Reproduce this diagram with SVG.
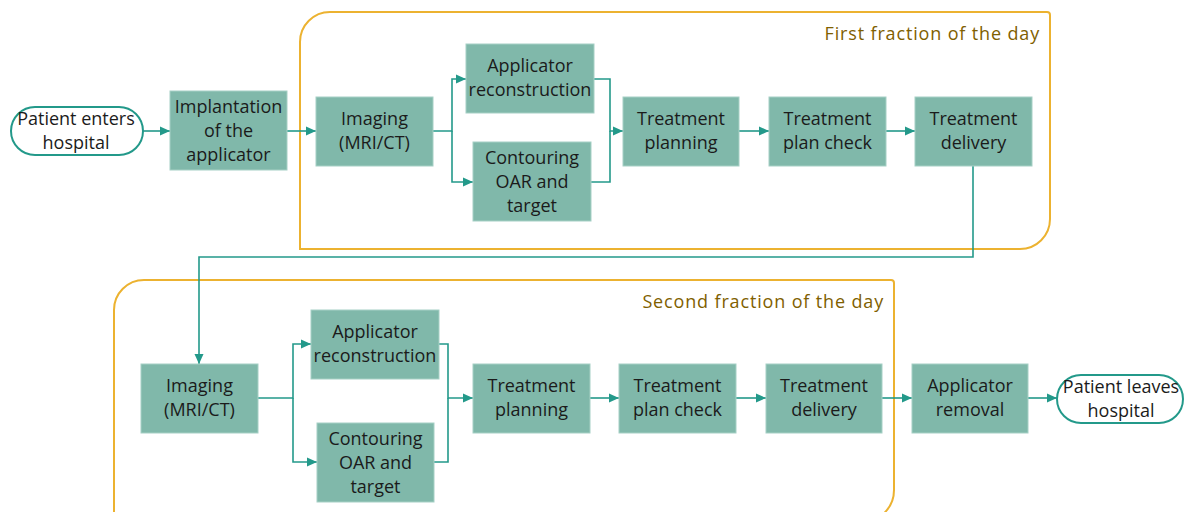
<svg xmlns="http://www.w3.org/2000/svg" width="1184" height="512" viewBox="0 0 1184 512">
  <defs>
    <marker id="arrow" markerUnits="userSpaceOnUse" markerWidth="10" markerHeight="10" viewBox="0 0 10 10" refX="10" refY="5" orient="auto">
      <path d="M0,0.5 L10,5 L0,9.5 Z" fill="#23998a"/>
    </marker>
    <style>
      .frame { fill: none; stroke: #ecb230; stroke-width: 2; }
      .frame-label { font-family: "Open Sans", "Liberation Sans", sans-serif; font-size: 18px; letter-spacing: 0.85px; fill: #7f6000; text-anchor: end; }
      .box { fill: #80b8aa; stroke: #a6d0c5; stroke-width: 1; }
      .term { fill: #ffffff; stroke: #23998a; stroke-width: 2; }
      .label { font-family: "Open Sans", "Liberation Sans", sans-serif; font-size: 18px; fill: #1b1b1b; text-anchor: middle; }
      .conn { fill: none; stroke: #23998a; stroke-width: 1.6; }
    </style>
  </defs>
  <rect width="1184" height="512" fill="#ffffff"/>

  <!-- session frames -->
  <g id="frame-first">
    <path class="frame" d="M300,42 A30,30 0 0 1 330,12 L1047,12 Q1050,12 1050,15 L1050,219 A30,30 0 0 1 1020,249 L300,249 Z"/>
    <text class="frame-label" x="1040" y="40">First fraction of the day</text>
  </g>
  <g id="frame-second">
    <path class="frame" d="M114,310 A30,30 0 0 1 144,280 L891,280 Q894,280 894,283 L894,490 A32,32 0 0 1 862,522 L114,522 Z"/>
    <text class="frame-label" x="884" y="308">Second fraction of the day</text>
  </g>

  <!-- connectors -->
  <g id="connectors">
    <path class="conn" d="M143,131 H170" marker-end="url(#arrow)"/>
    <path class="conn" d="M287,131 H316" marker-end="url(#arrow)"/>
    <path class="conn" d="M433,131 H452 V79 H466" marker-end="url(#arrow)"/>
    <path class="conn" d="M452,131 V182 H473" marker-end="url(#arrow)"/>
    <path class="conn" d="M591,182 H610 V131"/>
    <path class="conn" d="M594,79 H610 V131 H623" marker-end="url(#arrow)"/>
    <path class="conn" d="M739,131 H769" marker-end="url(#arrow)"/>
    <path class="conn" d="M886,131 H915" marker-end="url(#arrow)"/>
    <path class="conn" d="M973,166 V257 H199 V364" marker-end="url(#arrow)"/>
    <path class="conn" d="M258,398 H293 V344 H311" marker-end="url(#arrow)"/>
    <path class="conn" d="M293,398 V462 H317" marker-end="url(#arrow)"/>
    <path class="conn" d="M434,462 H448 V398"/>
    <path class="conn" d="M439,344 H448 V398 H473" marker-end="url(#arrow)"/>
    <path class="conn" d="M590,398 H619" marker-end="url(#arrow)"/>
    <path class="conn" d="M736,398 H766" marker-end="url(#arrow)"/>
    <path class="conn" d="M882,398 H912" marker-end="url(#arrow)"/>
    <path class="conn" d="M1028,398 H1057" marker-end="url(#arrow)"/>
  </g>

  <!-- nodes -->
  <g id="patient-enters">
    <rect class="term" x="11" y="107" width="132" height="48" rx="24"/>
    <text class="label" x="76" y="125">Patient enters</text>
    <text class="label" x="76" y="149">hospital</text>
  </g>
  <g id="implantation">
    <rect class="box" x="170" y="91" width="117" height="79"/>
    <text class="label" x="228.5" y="113">Implantation</text>
    <text class="label" x="228.5" y="137">of the</text>
    <text class="label" x="228.5" y="161">applicator</text>
  </g>
  <g id="imaging-1">
    <rect class="box" x="316" y="97" width="117" height="69"/>
    <text class="label" x="374.5" y="125">Imaging</text>
    <text class="label" x="374.5" y="149">(MRI/CT)</text>
  </g>
  <g id="reconstruction-1">
    <rect class="box" x="466" y="44" width="128" height="69"/>
    <text class="label" x="530" y="72">Applicator</text>
    <text class="label" x="530" y="96">reconstruction</text>
  </g>
  <g id="contouring-1">
    <rect class="box" x="473" y="142" width="118" height="79"/>
    <text class="label" x="532" y="164">Contouring</text>
    <text class="label" x="532" y="188">OAR and</text>
    <text class="label" x="532" y="212">target</text>
  </g>
  <g id="planning-1">
    <rect class="box" x="623" y="97" width="116" height="69"/>
    <text class="label" x="681" y="125">Treatment</text>
    <text class="label" x="681" y="149">planning</text>
  </g>
  <g id="plan-check-1">
    <rect class="box" x="769" y="97" width="117" height="69"/>
    <text class="label" x="827.5" y="125">Treatment</text>
    <text class="label" x="827.5" y="149">plan check</text>
  </g>
  <g id="delivery-1">
    <rect class="box" x="915" y="97" width="117" height="69"/>
    <text class="label" x="973.5" y="125">Treatment</text>
    <text class="label" x="973.5" y="149">delivery</text>
  </g>

  <g id="imaging-2">
    <rect class="box" x="141" y="364" width="117" height="69"/>
    <text class="label" x="199.5" y="392">Imaging</text>
    <text class="label" x="199.5" y="416">(MRI/CT)</text>
  </g>
  <g id="reconstruction-2">
    <rect class="box" x="311" y="310" width="128" height="69"/>
    <text class="label" x="375" y="338">Applicator</text>
    <text class="label" x="375" y="362">reconstruction</text>
  </g>
  <g id="contouring-2">
    <rect class="box" x="317" y="423" width="117" height="79"/>
    <text class="label" x="375.5" y="445">Contouring</text>
    <text class="label" x="375.5" y="469">OAR and</text>
    <text class="label" x="375.5" y="493">target</text>
  </g>
  <g id="planning-2">
    <rect class="box" x="473" y="364" width="117" height="69"/>
    <text class="label" x="531.5" y="392">Treatment</text>
    <text class="label" x="531.5" y="416">planning</text>
  </g>
  <g id="plan-check-2">
    <rect class="box" x="619" y="364" width="117" height="69"/>
    <text class="label" x="677.5" y="392">Treatment</text>
    <text class="label" x="677.5" y="416">plan check</text>
  </g>
  <g id="delivery-2">
    <rect class="box" x="766" y="364" width="116" height="69"/>
    <text class="label" x="824" y="392">Treatment</text>
    <text class="label" x="824" y="416">delivery</text>
  </g>
  <g id="applicator-removal">
    <rect class="box" x="912" y="364" width="116" height="69"/>
    <text class="label" x="970" y="392">Applicator</text>
    <text class="label" x="970" y="416">removal</text>
  </g>
  <g id="patient-leaves">
    <rect class="term" x="1057" y="375" width="126" height="48" rx="24"/>
    <text class="label" x="1121" y="393">Patient leaves</text>
    <text class="label" x="1121" y="417">hospital</text>
  </g>
</svg>
